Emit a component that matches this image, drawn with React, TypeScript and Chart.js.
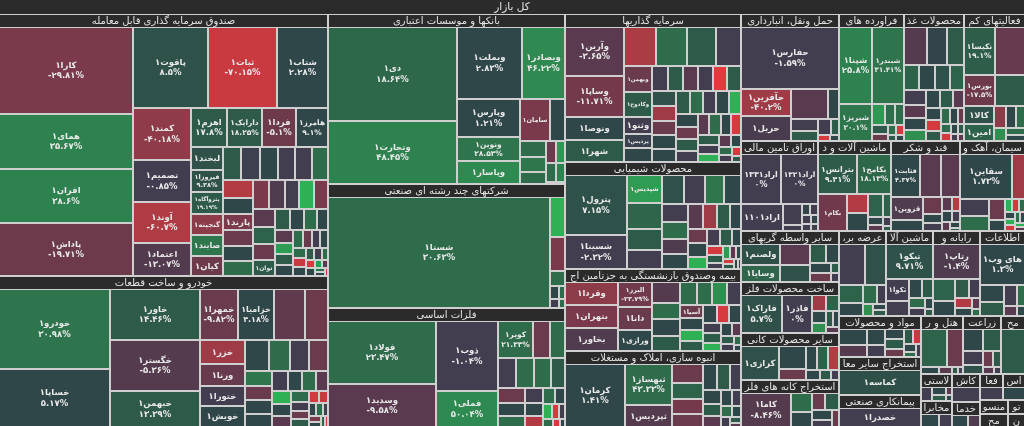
import React, { useEffect, useRef } from "react";
import { Chart, registerables } from "chart.js";

Chart.register(...registerables);

// [name, market value, yearly change %, day-change tone (-5..6)]
type Cell = [string, number, number | null, number];

const marketTitle = "کل بازار";

const etfCells: Cell[] = [
  ["کارا۱", 11980, -29.81, -2], ["همای۱", 7630, 35.67, 4], ["افران۱", 7420, 38.6, 4],
  ["پاداش۱", 7310, -19.71, -1.6], ["پاقوت۱", 6280, 8.5, 1.6], ["ثبات۱", 5780, -70.15, -4],
  ["شتاب۱", 4270, 2.28, 1], ["کمند۱", 3135, -40.18, -2.6], ["تصمیم۱", 2520, -0.85, 0],
  ["آوند۱", 2400, -60.7, -3.4], ["اعتماد۱", 1970, -13.07, -0.7], ["اهرم۱", 1465, 17.8, 2],
  ["دارایک۱", 1420, 18.25, 2], ["فردا۱", 1380, -5.1, -1.6], ["هامرز۱", 1335, 9.1, 1],
  ["لبخند۱", 765, 5.04, 1.5], ["فیروزا۱", 740, 9.38, 1.5], ["پتروآگاه۱", 720, 19.19, 2],
  ["گنجینه۱", 700, null, -2.5], ["صایند۱", 680, null, 3.5], ["کیان۱", 655, -3.2, -1.6],
  ["نهال۱", 635, 2.9, 0.3], ["", 636, null, 2], ["", 615, null, 1], ["", 595, null, 0],
  ["", 583, null, 0], ["", 570, null, 3], ["", 550, null, -3.5], ["", 530, null, 1],
  ["پارند۱", 510, null, -2], ["", 488, null, -1.5], ["", 477, null, 1], ["", 477, null, 3],
  ["کاج۱", 466, null, -2], ["", 456, null, -0.5], ["", 445, null, 0], ["", 435, null, 5.5],
  ["", 424, null, -2], ["", 403, null, -1], ["", 382, null, 2.5], ["", 360, null, -1.5],
  ["توان۱", 340, null, 2], ["", 318, null, 2], ["", 297, null, 1], ["", 276, null, 3],
  ["", 254, null, 1], ["", 233, null, -1], ["", 212, null, 5], ["", 201, null, 2],
  ["", 191, null, 1], ["", 180, null, 3], ["", 170, null, -1.5], ["", 159, null, 0],
  ["", 148, null, 1], ["", 138, null, 3], ["", 127, null, -4], ["", 117, null, 1],
  ["", 106, null, 2], ["", 95, null, 0], ["", 85, null, 3], ["", 74, null, -4.5],
  ["", 64, null, 1], ["", 53, null, 5], ["", 48, null, -1], ["", 42, null, 3],
  ["", 37, null, 1], ["", 32, null, -4.5],
];

const autoCells: Cell[] = [
  ["خودرو۱", 9590, 30.98, 3.4], ["خساپا۱", 6950, 5.17, 1], ["خاور۱", 4990, 14.46, 2],
  ["خگستر۱", 4900, -5.36, -0.8], ["خبهمن۱", 3430, 13.39, 2], ["خمهرا۱", 2075, -9.82, -1.5],
  ["خزامیا۱", 2020, 4.18, 1], ["", 1680, null, -1.2], ["", 1290, null, -1.6],
  ["خزر۱", 1160, null, -3], ["ورنا۱", 1060, null, -1.4], ["ختورا۱", 1010, null, 0],
  ["خویش۱", 1000, null, 1], ["", 800, null, 1], ["", 700, null, 3], ["", 640, null, 0],
  ["", 630, null, -1.5], ["", 450, null, 3.5], ["", 420, null, -1.5], ["", 400, null, 1],
  ["", 390, null, 1], ["", 340, null, 0], ["", 320, null, 1], ["", 300, null, 3],
  ["", 280, null, -1], ["", 260, null, 5.5], ["", 240, null, 1], ["", 220, null, -1],
  ["", 200, null, 3], ["", 180, null, 0], ["", 160, null, -1.5], ["", 150, null, 2],
  ["", 130, null, -4.5], ["", 120, null, -4], ["", 100, null, 1], ["", 90, null, 3],
  ["", 80, null, 0], ["", 70, null, -2], ["", 60, null, 1], ["", 50, null, 3], ["", 40, null, -4.5],
];

const bankCells: Cell[] = [
  ["دی۱", 12840, 18.64, 2.8], ["وتجارت۱", 8700, 48.45, 4], ["وبملت۱", 4990, 2.83, 1],
  ["وبصادر۱", 3300, 46.22, 4.3], ["وپارس۱", 2560, 1.21, 1], ["ونوین۱", 1600, 28.53, 3.4],
  ["وپاسار۱", 1550, 56.8, 4.3], ["سامان۱", 1330, null, -2], ["وکغدیر۱", 660, null, 1],
  ["", 440, null, 3], ["", 400, null, 3.5], ["", 330, null, 3], ["", 240, null, -1.5],
  ["", 220, null, 4.8], ["", 210, null, 3], ["", 175, null, 4], ["", 55, null, -4],
];

const multiCells: Cell[] = [
  ["شستا۱", 27000, 30.63, 3], ["", 640, null, 5.5], ["", 560, null, -2], ["", 240, null, 3],
  ["", 120, null, 1], ["", 100, null, 3], ["", 80, null, 0], ["", 60, null, 3],
];

const metalCells: Cell[] = [
  ["فولاد۱", 7450, 23.47, 3], ["وسدید۱", 5160, -9.58, -1], ["ذوب۱", 4770, -1.04, 0],
  ["فملی۱", 2420, 50.04, 4.3], ["کویر۱", 1430, 21.33, 3], ["", 700, null, -1.5],
  ["", 620, null, 3], ["", 610, null, 0], ["", 600, null, 3], ["", 560, null, 3],
  ["", 480, null, 2], ["", 420, null, -1.5], ["", 380, null, 1], ["", 340, null, 3],
  ["", 300, null, 0], ["", 260, null, 1], ["", 230, null, -3.5], ["", 200, null, 3],
  ["", 170, null, 1], ["", 150, null, 5.5], ["", 120, null, -4.5], ["", 100, null, 0],
  ["", 80, null, 3], ["", 60, null, -4.5], ["", 50, null, 1],
];

const investCells: Cell[] = [
  ["وآرین۱", 3105, -3.65, -1], ["وساپا۱", 2560, -11.71, -1.8], ["ونوصا۱", 1447, 1.5, 1],
  ["شهرا۱", 1391, null, 2], ["", 1336, null, -3.3], ["", 1280, null, 3], ["", 1224, null, 2],
  ["", 1057, null, 0], ["وبهمن۱", 801, null, -1.5], ["وکادوح۱", 768, null, 2],
  ["وثنو۱", 523, null, 0], ["پردیس۱", 445, null, 0.5], ["", 430, null, 1], ["", 425, null, 0],
  ["", 420, null, 2], ["", 415, null, -1], ["", 410, null, 0], ["", 400, null, -5],
  ["", 390, null, 2], ["", 380, null, 1.5], ["", 370, null, -3], ["", 360, null, -1.5],
  ["", 350, null, 1], ["", 340, null, 1], ["", 330, null, 2], ["", 330, null, 3],
  ["", 320, null, 0], ["", 310, null, 1], ["", 300, null, 5.5], ["", 300, null, 1],
  ["", 290, null, -1.5], ["", 280, null, 2], ["", 270, null, 0], ["", 260, null, -1],
  ["", 250, null, 3], ["", 240, null, 1], ["", 230, null, -4.5], ["", 220, null, 2],
  ["", 200, null, 0], ["", 180, null, 5.5], ["", 160, null, -1], ["", 140, null, 1],
  ["", 120, null, 3], ["", 100, null, 0], ["", 80, null, -4.5], ["", 60, null, 2],
];

const chemCells: Cell[] = [
  ["پترول۱", 4070, 7.15, 1.6], ["شسینا۱", 2385, -2.32, 0], ["شپدیس۱", 1100, null, 5],
  ["", 1035, null, 2.6], ["", 860, null, 2], ["", 760, null, 0], ["", 700, null, 1.5],
  ["", 650, null, 0], ["شفن۱", 600, null, 3.5], ["", 560, null, 1], ["", 520, null, 0],
  ["", 500, null, 3], ["", 440, null, -0.5], ["", 430, null, 1], ["", 430, null, -1],
  ["", 400, null, -3], ["", 350, null, 2], ["", 330, null, 1], ["", 300, null, -1.5],
  ["", 280, null, 1], ["", 260, null, 5.5], ["", 240, null, 0], ["", 220, null, 2],
  ["", 180, null, 1], ["", 160, null, -4.5], ["", 140, null, 2], ["", 120, null, 0],
  ["", 100, null, 5], ["", 90, null, -1], ["", 80, null, 1], ["", 70, null, -4.5],
  ["", 60, null, 2], ["", 50, null, 1], ["", 40, null, 0],
];

const insureCells: Cell[] = [
  ["وقردا۱", 1408, -31.37, -2.5], ["بتهران۱", 1404, null, -2], ["بخاور۱", 1400, null, -0.6],
  ["البرز۱", 985, -23.79, -1.7], ["دانا۱", 900, null, -1.5], ["ورازی۱", 857, null, 1],
  ["", 675, null, -0.8], ["", 560, null, 3], ["", 560, null, 1], ["", 500, null, 2],
  ["", 450, null, 3], ["ملت۱", 410, null, 3], ["", 410, null, 4.5], ["", 380, null, 0],
  ["آسیا۱", 345, null, -1.5], ["", 330, null, 1], ["", 300, null, 5.5], ["", 280, null, 2],
  ["", 270, null, 1], ["", 260, null, -4.5], ["", 240, null, 1], ["", 220, null, 0],
  ["", 200, null, 2], ["", 180, null, 5.5], ["", 160, null, 1], ["", 140, null, -1],
  ["", 120, null, 2], ["", 100, null, 0], ["", 80, null, 3], ["", 60, null, 1],
];

const buildCells: Cell[] = [
  ["کرمان۱", 4410, 1.41, 1], ["ثبهساز۱", 2300, 43.33, 3], ["ثپردیس۱", 1210, null, -0.8],
  ["", 700, null, -1.5], ["", 600, null, 2.5], ["", 540, null, -1.8], ["", 480, null, -1.5],
  ["", 420, null, 1], ["", 380, null, 2], ["", 340, null, 0], ["", 300, null, 1],
  ["", 260, null, 2], ["", 230, null, -1], ["", 200, null, 1], ["", 180, null, 0],
  ["", 150, null, 3], ["", 120, null, 1], ["", 100, null, 0], ["", 80, null, 2], ["", 60, null, -1],
];

const transportCells: Cell[] = [
  ["حفارس۱", 6630, -1.59, 0], ["حآفرین۱", 1460, -40.2, -3], ["حریل۱", 1405, null, -0.3],
  ["", 1190, null, -1], ["", 360, null, 1], ["", 360, null, 0], ["", 300, null, 2],
  ["", 240, null, 0], ["", 140, null, 2], ["", 80, null, -4.5], ["", 60, null, 1],
];

const oilCells: Cell[] = [
  ["شپنا۱", 2800, 25.8, 4], ["شبندر۱", 2630, 31.41, 3.4], ["شبریز۱", 1330, 20.1, 3.5],
  ["", 290, null, 4.8], ["", 220, null, 3], ["", 200, null, 3], ["", 160, null, 2],
  ["", 130, null, -1.5], ["", 100, null, 3], ["", 80, null, -4.5], ["", 60, null, 2], ["", 50, null, 1],
];

const foodCells: Cell[] = [
  ["", 1000, null, -0.8], ["", 820, null, 0.8], ["", 740, null, 2], ["", 430, null, 2.5],
  ["", 420, null, 1], ["", 410, null, 1.5], ["", 390, null, 2.5], ["", 360, null, 0],
  ["", 330, null, -1], ["", 300, null, 1], ["", 280, null, 4.5], ["", 260, null, 1],
  ["", 240, null, 2], ["", 220, null, -1], ["", 200, null, 1], ["", 180, null, -4.5],
  ["", 160, null, 2], ["", 150, null, 3], ["", 140, null, 1], ["", 120, null, -1.5],
  ["", 100, null, 3], ["", 90, null, -4.5], ["", 80, null, 1], ["", 70, null, 2],
  ["", 60, null, 0], ["", 50, null, -1],
];

const supportCells: Cell[] = [
  ["نکیسا۱", 1600, 19.1, 2.2], ["", 1560, null, -1.4], ["بورس۱", 1050, -17.5, -1.6],
  ["", 1000, null, 2], ["کالا۱", 575, null, 1.5], ["امین۱", 570, null, 2.5],
  ["", 290, null, -2.5], ["", 260, null, 1], ["", 220, null, 3], ["", 180, null, 4.5],
  ["", 140, null, 3], ["", 130, null, 1],
];

const bondCells: Cell[] = [
  ["اراد۱۳۳۱", 2300, 0, 0], ["اراد۱۳۲۱", 2130, 0, 0], ["اراد۱۱۰۱", 1300, null, 0],
  ["", 430, null, 0], ["", 130, null, 0], ["", 110, null, 0.8], ["", 100, null, 0],
  ["", 90, null, 0], ["", 80, null, 0], ["", 70, null, 0.8], ["", 60, null, 0],
];

const electricCells: Cell[] = [
  ["بترانس۱", 1800, 9.41, 2], ["بکامح۱", 1540, 18.13, 2.8], ["بکام۱", 1200, -13.69, -1.7],
  ["", 470, null, -3.5], ["", 440, null, 1], ["", 370, null, 2.5], ["", 200, null, 2.5],
  ["", 150, null, 1], ["", 100, null, -1], ["", 80, null, 0], ["", 50, null, 2],
];

const sugarCells: Cell[] = [
  ["قثابت۱", 1450, 4.37, 1], ["", 1030, null, -1], ["قچار۱", 925, null, -1],
  ["قزوین۱", 840, null, -0.5], ["", 430, null, 1], ["", 375, null, -1.5], ["", 200, null, 1],
  ["", 180, null, 0], ["", 150, null, -1], ["", 125, null, -3.5], ["", 120, null, 1],
  ["", 100, null, 0], ["", 80, null, -1], ["", 60, null, 1], ["", 35, null, 2],
];

const cementCells: Cell[] = [
  ["سقاین۱", 2700, 1.73, 1], ["سبزوا۱", 640, null, -3], ["", 560, null, 0],
  ["", 520, null, 3], ["", 400, null, -1.5], ["", 200, null, 1], ["", 110, null, 5.5],
  ["", 100, null, -4.5], ["", 90, null, 3], ["", 85, null, 1], ["", 80, null, 5.5],
  ["", 70, null, -4.5], ["", 65, null, 3], ["", 60, null, 1], ["", 55, null, 5.5], ["", 45, null, -1],
];

const brokerCells: Cell[] = [
  ["ولصنم۱", 1050, null, 1.4], ["وسایا۱", 890, null, 2.6], ["", 830, null, -1],
  ["", 660, null, 1.5], ["", 385, null, 2], ["", 310, null, 1], ["", 300, null, 1],
  ["", 240, null, -1.5], ["", 100, null, 2], ["", 80, null, 0],
];

const metalProdCells: Cell[] = [
  ["فاراک۱", 2030, 5.7, 1.5], ["فاذر۱", 1475, 0, 0], ["", 300, null, -3],
  ["", 260, null, 2.5], ["", 220, null, 1], ["", 180, null, 4.5], ["", 150, null, 2],
  ["", 120, null, 1], ["", 100, null, -1],
];

const mineralCells: Cell[] = [
  ["کرازی۱", 1770, null, 1.5], ["", 855, null, 1], ["", 400, null, -1.5], ["", 380, null, 1],
  ["", 360, null, 2.5], ["", 340, null, -3.5], ["", 200, null, 1], ["", 150, null, 2], ["", 100, null, 0],
];

const oreCells: Cell[] = [
  ["کاما۱", 2300, -8.46, -0.8], ["", 520, null, 3], ["", 440, null, 1], ["", 300, null, -1.5],
  ["", 300, null, 2], ["", 250, null, 1], ["", 200, null, 0], ["", 150, null, -1.5],
];

const powerCells: Cell[] = [
  ["", 1260, null, 0], ["", 1015, null, 1.5], ["", 500, null, 2.5], ["", 360, null, 1],
  ["", 300, null, 3], ["", 200, null, 0], ["", 150, null, 4.5], ["", 100, null, 1], ["", 95, null, 2],
];

const machineCells: Cell[] = [
  ["تیکو۱", 1890, 9.71, 1.6], ["تکوا۱", 560, null, 0], ["گلدیرا۱", 400, null, 0],
  ["", 300, null, 1], ["", 250, null, 2], ["", 200, null, 3], ["", 150, null, 0],
  ["", 100, null, 1], ["", 70, null, 2],
];

const computerCells: Cell[] = [
  ["رتاپ۱", 1850, -1.4, -0.5], ["رافزا۱", 560, null, 2.5], ["", 400, null, 1], ["", 300, null, 2],
  ["", 250, null, 0], ["", 200, null, -3.5], ["", 150, null, 1], ["", 100, null, -1], ["", 70, null, 3],
];

const infoCells: Cell[] = [
  ["های وب۱", 2120, 1.3, 1], ["", 500, null, 1], ["", 400, null, 2], ["", 300, null, 0],
  ["", 200, null, 3], ["", 150, null, -1], ["", 100, null, 1],
];

const pharmaCells: Cell[] = [
  ["", 650, null, 1], ["", 490, null, -0.8], ["", 400, null, 1], ["", 300, null, 0],
  ["", 270, null, 1], ["", 270, null, 2], ["", 220, null, -1.5], ["", 200, null, 2],
  ["", 150, null, -4], ["", 150, null, 1], ["", 100, null, 3], ["", 80, null, 0],
];

const otherMineCells: Cell[] = [["کماسه۱", 3040, null, 1.4]];
const contractCells: Cell[] = [["خصدرا۱", 2600, null, 0]];
const hotelCells: Cell[] = [
  ["", 1240, null, 2.5], ["", 770, null, -1.5], ["", 170, null, 1], ["", 120, null, -1],
  ["", 60, null, 2], ["", 40, null, 0],
];
const farmCells: Cell[] = [
  ["", 570, null, 1], ["", 485, null, 2], ["", 350, null, 0], ["", 250, null, 1.5],
  ["", 200, null, -1.5], ["", 150, null, 2], ["", 100, null, -1], ["", 60, null, 0],
];
const paperCells: Cell[] = [["", 1368, null, 2]];
const rubberCells: Cell[] = [["", 300, null, 0], ["", 220, null, 1], ["", 150, null, 2], ["", 90, null, -1], ["", 60, null, 1]];
const telecomCells: Cell[] = [["", 480, null, 1], ["", 320, null, 0]];
const tileCells: Cell[] = [["", 790, null, 0]];
const engineerCells: Cell[] = [["", 400, null, 1], ["", 290, null, -0.5]];
const artCells: Cell[] = [["", 578, null, 0]];
const oilExtractCells: Cell[] = [["", 544, null, 1]];
const textileCells: Cell[] = [["", 250, null, -3], ["", 141, null, 0]];
const leatherCells: Cell[] = [["", 345, null, 0]];
const electronicCells: Cell[] = [["", 238, null, 0]];
const printCells: Cell[] = [["", 224, null, 0]];

const sectorNames: string[] = [
  "صندوق سرمایه گذاری قابل معامله", "خودرو و ساخت قطعات", "بانکها و موسسات اعتباری",
  "شرکتهای چند رشته ای صنعتی", "فلزات اساسی", "سرمایه گذاریها", "محصولات شیمیایی",
  "بیمه وصندوق بازنشستگی به جزتامین اجتماعی", "انبوه سازی، املاک و مستغلات",
  "حمل ونقل، انبارداری و ارتباطات", "فراورده های نفتی، کک و سوخت هسته ای",
  "محصولات غذایی و آشامیدنی به جز قند و شکر", "فعالیتهای کمکی به نهادهای مالی واسط",
  "اوراق تامین مالی", "ماشین آلات و دستگاههای برقی", "قند و شکر", "سیمان، آهک و گچ",
  "سایر واسطه گریهای مالی", "ساخت محصولات فلزی", "سایر محصولات کانی غیرفلزی",
  "استخراج کانه های فلزی", "،عرضه برق، گاز، بخاروآب گرم", "ماشین آلات و تجهیزات",
  "رایانه و فعالیتهای وابسته به آن", "اطلاعات و ارتباطات", "مواد و محصولات دارویی",
  "استخراج سایر معادن", "پیمانکاری صنعتی", "هتل و رستوران", "زراعت و خدمات مرتبط",
  "محصولات کاغذی", "لاستیک و پلاستیک", "مخابرات", "کاشی و سرامیک", "خدمات فنی و مهندسی",
  "فعالیت های هنری، سرگرمی و خلاقانه", "استخراج نفت گاز و خدمات جنبی", "منسوجات",
  "محصولات چرمی", "تولید محصولات کامپیوتری", "نشر، چاپ و تکثیر",
];

const sectorCells: Cell[][] = [
  etfCells, autoCells, bankCells, multiCells, metalCells, investCells, chemCells,
  insureCells, buildCells, transportCells, oilCells, foodCells, supportCells, bondCells,
  electricCells, sugarCells, cementCells, brokerCells, metalProdCells, mineralCells,
  oreCells, powerCells, machineCells, computerCells, infoCells, pharmaCells,
  otherMineCells, contractCells, hotelCells, farmCells, paperCells, rubberCells,
  telecomCells, tileCells, engineerCells, artCells, oilExtractCells, textileCells,
  leatherCells, electronicCells, printCells,
];

// ---------- styling ----------
const toneStops: [number, number, number, number][] = [
  [-5, 226, 57, 61], [-4, 200, 58, 64], [-3, 158, 59, 71], [-2, 122, 58, 75],
  [-1, 90, 58, 78], [0, 67, 61, 80], [1, 47, 71, 73], [2, 46, 90, 74],
  [3, 46, 108, 75], [4, 46, 130, 79], [5, 46, 156, 82], [6, 46, 197, 86],
];
function toneColor(t: number): string {
  if (t <= toneStops[0][0]) { const s = toneStops[0]; return `rgb(${s[1]},${s[2]},${s[3]})`; }
  for (let i = 0; i < toneStops.length - 1; i++) {
    const a = toneStops[i], b = toneStops[i + 1];
    if (t >= a[0] && t <= b[0]) {
      const f = (t - a[0]) / (b[0] - a[0]);
      const r = Math.round(a[1] + (b[1] - a[1]) * f);
      const g = Math.round(a[2] + (b[2] - a[2]) * f);
      const bl = Math.round(a[3] + (b[3] - a[3]) * f);
      return `rgb(${r},${g},${bl})`;
    }
  }
  const s = toneStops[toneStops.length - 1];
  return `rgb(${s[1]},${s[2]},${s[3]})`;
}

const FA_DIGITS = "۰۱۲۳۴۵۶۷۸۹";
const toFa = (s: string) => s.replace(/\d/g, (d) => FA_DIGITS[+d]);

const W = 1024, H = 426;
const PAD = 1;
const ROOT_BAR = 14, ROOT_TOP = 15;
const SEC_BAR = 12, SEC_TOP = 13;
const FONT = '"DejaVu Sans", sans-serif';

interface Item { value: number }
interface Placed<T> { node: T; x0: number; y0: number; x1: number; y1: number }

const PHI = (1 + Math.sqrt(5)) / 2;
function squarify<T extends Item>(nodes: T[], x0: number, y0: number, x1: number, y1: number): Placed<T>[] {
  const out: Placed<T>[] = [];
  let value = nodes.reduce((s, n) => s + n.value, 0);
  let i0 = 0, i1 = 0;
  const n = nodes.length;
  while (i0 < n) {
    const dx = x1 - x0, dy = y1 - y0;
    let sumValue = nodes[i1++].value;
    let minValue = sumValue, maxValue = sumValue;
    const alpha = Math.max(dy / dx, dx / dy) / (value * PHI);
    let beta = sumValue * sumValue * alpha;
    let minRatio = Math.max(maxValue / beta, beta / minValue);
    for (; i1 < n; ++i1) {
      const nv = nodes[i1].value;
      sumValue += nv;
      if (nv < minValue) minValue = nv;
      if (nv > maxValue) maxValue = nv;
      beta = sumValue * sumValue * alpha;
      const newRatio = Math.max(maxValue / beta, beta / minValue);
      if (newRatio > minRatio) { sumValue -= nv; break; }
      minRatio = newRatio;
    }
    const row = nodes.slice(i0, i1);
    if (dx < dy) {
      const yy = value ? y0 + (dy * sumValue) / value : y1;
      let x = x0;
      const k = sumValue ? (x1 - x0) / sumValue : 0;
      for (const nd of row) { const nx = x + nd.value * k; out.push({ node: nd, x0: x, y0, x1: nx, y1: yy }); x = nx; }
      y0 = yy;
    } else {
      const xx = value ? x0 + (dx * sumValue) / value : x1;
      let y = y0;
      const k = sumValue ? (y1 - y0) / sumValue : 0;
      for (const nd of row) { const ny = y + nd.value * k; out.push({ node: nd, x0, y0: y, x1: xx, y1: ny }); y = ny; }
      x0 = xx;
    }
    value -= sumValue;
    i0 = i1;
  }
  return out;
}

function fitText(ctx: CanvasRenderingContext2D, text: string, maxW: number): string {
  let t = text;
  while (t.length > 0 && ctx.measureText(t).width > maxW) t = t.slice(0, -1);
  return t.trim();
}

function drawLeafLabel(ctx: CanvasRenderingContext2D, name: string, pct: string | null, x: number, y: number, w: number, h: number) {
  if (!name) return;
  for (let fs = 8.5; fs >= 5.5; fs -= 0.5) {
    ctx.font = `bold ${fs}px ${FONT}`;
    const lh = fs + 2;
    const nw = ctx.measureText(name).width;
    if (nw > w - 3 || h < lh + 1) continue;
    let two = false;
    if (pct) {
      const pw = ctx.measureText(pct).width;
      two = pw <= w - 3 && h >= lh * 2 + 3;
      if (!two && fs > 6.5 && h >= (fs + 1) * 2 + 3) continue;
    }
    const cx = x + w / 2, cy = y + h / 2;
    ctx.fillStyle = "#e9e9e9";
    if (two && pct) {
      ctx.fillText(name, cx, cy - lh / 2 + 0.5);
      ctx.fillText(pct, cx, cy + lh / 2 + 0.5);
    } else {
      ctx.fillText(name, cx, cy + 0.5);
    }
    return;
  }
}

const treemapPlugin = {
  id: "treemapPainter",
  beforeDraw(chart: any) {
    const { ctx, width, height } = chart;
    ctx.save();
    ctx.fillStyle = "#cfcfcf";
    ctx.fillRect(0, 0, width, height);
    ctx.restore();
  },
  afterDatasetsDraw(chart: any) {
    const ctx: CanvasRenderingContext2D = chart.ctx;
    const xs = chart.scales.x, ys = chart.scales.y;
    const X = (v: number) => Math.round(xs.getPixelForValue(v));
    const Y = (v: number) => Math.round(ys.getPixelForValue(v));
    const rect = (x0: number, y0: number, x1: number, y1: number) => {
      const a = X(x0), b = Y(y0), c = X(x1), d = Y(y1);
      return { x: a, y: b, w: c - a, h: d - b };
    };
    const xMin = xs.min, xMax = xs.max, yMin = ys.min, yMax = ys.max;

    ctx.save();
    ctx.direction = "ltr";
    ctx.textAlign = "center";
    ctx.textBaseline = "middle";

    const rh = rect(xMin, yMin, xMax, yMin + ROOT_BAR);
    ctx.fillStyle = "#2b2b2b";
    ctx.fillRect(rh.x, rh.y, rh.w, rh.h);
    ctx.font = `10.5px ${FONT}`;
    ctx.fillStyle = "#e4e4e4";
    ctx.fillText(marketTitle, rh.x + rh.w / 2, rh.y + rh.h / 2 + 0.5);

    const sectors = sectorNames.map((name, i) => {
      const cells = sectorCells[i]
        .map((c) => ({ name: c[0], value: c[1], change: c[2], tone: c[3] }))
        .sort((a, b) => b.value - a.value);
      return { name, cells, value: cells.reduce((s, c) => s + c.value, 0) };
    }).sort((a, b) => b.value - a.value);

    const placedSectors = squarify(sectors, xMin - PAD, yMin + ROOT_TOP - PAD, xMax + PAD, yMax + PAD);
    for (const ps of placedSectors) {
      const sx0 = ps.x0 + PAD, sy0 = ps.y0 + PAD, sx1 = ps.x1 - PAD, sy1 = ps.y1 - PAD;
      if (sx1 <= sx0 || sy1 <= sy0) continue;
      if (sy1 - sy0 > SEC_TOP) {
        const leaves = squarify(ps.node.cells, sx0 - PAD, sy0 + SEC_TOP - PAD, sx1 + PAD, sy1 + PAD);
        for (const lf of leaves) {
          const r = rect(lf.x0 + PAD, lf.y0 + PAD, lf.x1 - PAD, lf.y1 - PAD);
          if (r.w <= 0 || r.h <= 0) continue;
          ctx.fillStyle = toneColor(lf.node.tone);
          ctx.fillRect(r.x, r.y, r.w, r.h);
          const pct = lf.node.change === null ? null : toFa(String(lf.node.change)) + "%";
          drawLeafLabel(ctx, lf.node.name, pct, r.x, r.y, r.w, r.h);
        }
      }
      const hr = rect(sx0, sy0, sx1, Math.min(sy1, sy0 + SEC_BAR));
      ctx.fillStyle = "#2b2b2b";
      ctx.fillRect(hr.x, hr.y, hr.w, hr.h);
      ctx.font = `10px ${FONT}`;
      const t = fitText(ctx, ps.node.name, hr.w - 3);
      if (t) {
        ctx.fillStyle = "#e4e4e4";
        ctx.fillText(t, hr.x + hr.w / 2, hr.y + hr.h / 2 + 0.5);
      }
    }
    ctx.restore();
  },
};

export default function App() {
  const ref = useRef<HTMLCanvasElement>(null);
  useEffect(() => {
    document.body.style.margin = "0";
    const canvas = ref.current;
    if (!canvas) return;
    const chart = new Chart(canvas, {
      type: "scatter",
      data: { datasets: [{ data: [], pointRadius: 0 }] },
      options: {
        animation: false,
        responsive: false,
        events: [],
        layout: { padding: 0 },
        plugins: { legend: { display: false }, tooltip: { enabled: false } },
        scales: {
          x: { type: "linear", min: 0, max: W, display: false },
          y: { type: "linear", min: 0, max: H, reverse: true, display: false },
        },
      },
      plugins: [treemapPlugin],
    } as any);
    return () => chart.destroy();
  }, []);
  return <canvas ref={ref} width={W} height={H} style={{ display: "block", width: W, height: H }} />;
}
